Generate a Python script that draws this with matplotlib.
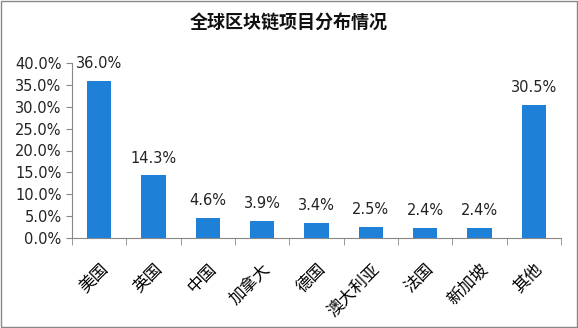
import matplotlib.pyplot as plt
from matplotlib.patches import Rectangle
import numpy as np

plt.rcParams['font.family'] = ['DejaVu Sans', 'Noto Sans CJK SC']

categories = ['美国', '英国', '中国', '加拿大', '德国', '澳大利亚', '法国', '新加坡', '其他']
values = [36.0, 14.3, 4.6, 3.9, 3.4, 2.5, 2.4, 2.4, 30.5]
yticks = [0, 5, 10, 15, 20, 25, 30, 35, 40]

fig = plt.figure(figsize=(5.78, 3.28), dpi=100)
ax = fig.add_axes([72 / 578, 1 - 238 / 328, (561 - 72) / 578, (238 - 63) / 328])

x = np.arange(len(categories))
ax.bar(x, values, width=0.45, color='#1f80d8', zorder=2)
for xi, v in zip(x, values):
    ax.annotate(f'{v:.1f}%', (xi, v), xytext=(0, 7), textcoords='offset points',
                ha='center', va='bottom', fontsize=10.5, color='#222222')

ax.set_xlim(-0.5, len(categories) - 0.5)
ax.set_ylim(0, 40)
ax.set_yticks(yticks)
ax.set_yticklabels([f'{t:.1f}%' for t in yticks], fontsize=10.5, color='#222222')
ax.set_xticks(x)
ax.set_xticklabels(categories, rotation=45, ha='right', rotation_mode='anchor',
                   fontsize=12, family=['Noto Sans CJK SC', 'DejaVu Sans'])
ax.tick_params(axis='x', length=0, pad=16)
ax.set_xticks(np.arange(-0.5, len(categories), 1), minor=True)
ax.tick_params(axis='x', which='minor', length=5, color='#888888')
ax.tick_params(axis='y', length=4, color='#888888')

for s in ['top', 'right']:
    ax.spines[s].set_visible(False)
ax.spines['left'].set_color('#888888')
ax.spines['bottom'].set_color('#888888')

fig.text(0.5, 1 - 22 / 328, '全球区块链项目分布情况', ha='center', va='center',
         fontsize=13, fontweight='bold', color='#111111', family=['Noto Sans CJK SC'])
fig.patches.append(Rectangle((0.002, 0.003), 0.996, 0.994, transform=fig.transFigure,
                             fill=False, edgecolor='#888888', linewidth=1))

fig.savefig('out.png', dpi=100)
